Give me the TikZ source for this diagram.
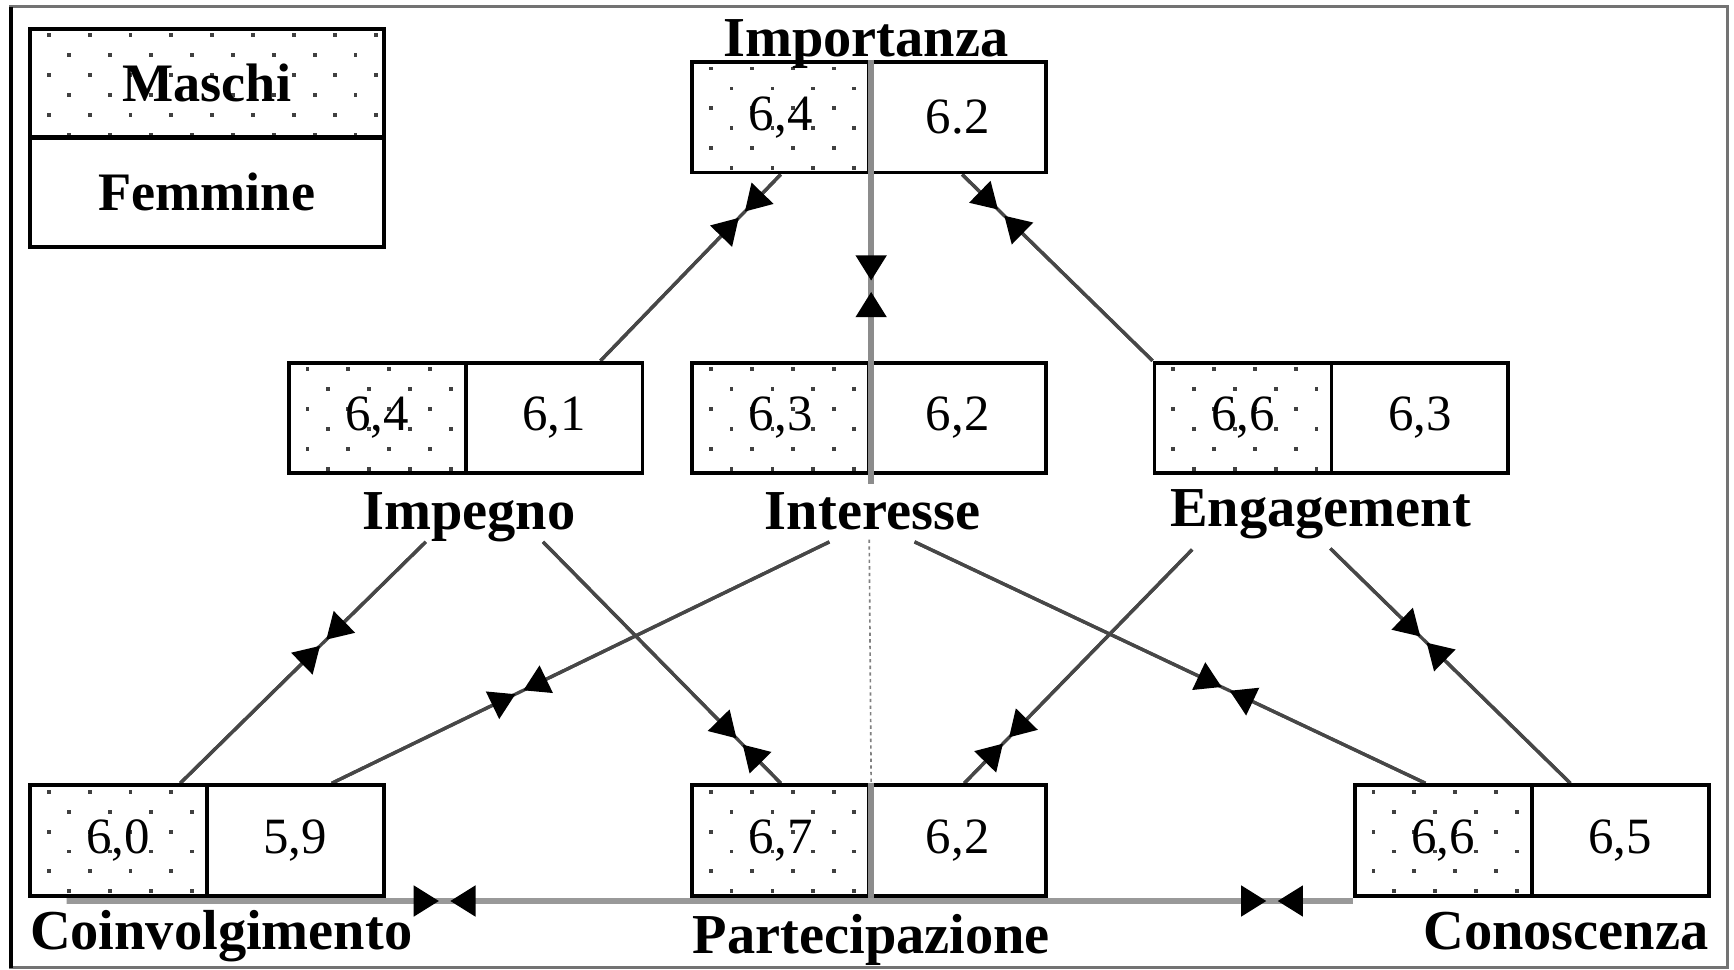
\documentclass[tikz,border=0pt]{standalone}
\usepackage{fontspec}
\setmainfont{Liberation Serif}
\usetikzlibrary{arrows.meta,calc,backgrounds}

\tikzset{
  half/.style={draw=black, line width=3.5pt, fill=white, minimum width=160pt,
    minimum height=100pt, inner sep=0pt, font=\fontsize{46}{46}\selectfont},
  mbox/.style={half, path picture={
    \foreach \j in {0,...,5}{
      \foreach \i in {0,...,8}{
        \pgfmathsetmacro\ddx{17+mod(\j,2)*18.5+\i*37}
        \pgfmathsetmacro\ddy{6+\j*18}
        \fill[black!75] ([shift={(\ddx-1.75,\ddy-1.75)}]path picture bounding box.north west) rectangle ++(3.5,3.5);
      }}}},
  fbox/.style={half},
  lab/.style={anchor=base, inner sep=0pt, font=\fontsize{51}{51}\selectfont\bfseries},
  leglab/.style={font=\fontsize{49}{49}\selectfont\bfseries},
  conn/.style={draw=black!72, line width=3pt},
  axisline/.style={draw=black!45, line width=5pt},
  baseline/.style={draw=black!40, line width=5pt},
  tipc/.style={-{Triangle[length=23pt,width=27pt,color=black]}},
}

\newcommand\bic[5]{%
  \path (#2) coordinate (bA) (#3) coordinate (bB);
  \coordinate (bM) at ($(bA)!#4!(bB)$);
  \draw[#1] (bA) -- (bB);
  \draw[#1,tipc] (bA) -- ($(bM)!#5pt!(bA)$);
  \draw[#1,tipc] (bB) -- ($(bM)!#5pt!(bB)$);
}

\begin{document}
\begin{tikzpicture}[x=1pt,y=-1pt]
\useasboundingbox (0,0) rectangle (1568,877);

% legend
\node[mbox, minimum width=320pt, minimum height=98pt, leglab] (legM) at (187,75) {Maschi};
\node[fbox, minimum width=320pt, minimum height=98pt, leglab] (legF) at (187,174) {Femmine};

% boxes
\node[mbox] (impoM) at (706,106) {6,4};
\node[fbox] (impoF) at (866,106) {6.2};
\node[mbox] (impeM) at (341,378) {6,4};
\node[fbox] (impeF) at (501,378) {6,1};
\node[mbox] (inteM) at (706,378) {6,3};
\node[fbox] (inteF) at (866,378) {6,2};
\node[mbox] (engaM) at (1124,378) {6,6};
\node[fbox] (engaF) at (1284,378) {6,3};
\node[mbox] (coinM) at (107,760) {6,0};
\node[fbox] (coinF) at (267,760) {5,9};
\node[mbox] (partM) at (706,760) {6,7};
\node[fbox] (partF) at (866,760) {6,2};
\node[mbox] (conoM) at (1305,760) {6,6};
\node[fbox] (conoF) at (1465,760) {6,5};

% labels
\node[lab] (impoL) at (783,51) {Importanza};
\node[lab] (impeL) at (424,479) {Impegno};
\node[lab] (inteL) at (789,479) {Interesse};
\node[lab] (engaL) at (1194,476) {Engagement};
\node[lab] (coinL) at (200,859) {Coinvolgimento};
\node[lab] (partL) at (788,862) {Partecipazione};
\node[lab] (conoL) at (1416,859) {Conoscenza};
\coordinate (dtop) at (786,488);

\begin{scope}[on background layer]
  \fill[white] (0,0) rectangle (1568,877);
  \draw[black!55, line width=3pt] (10,6) rectangle (1562,875);
  \draw[black, line width=3pt] (10,6) -- (10,875);
  \bic{conn}{impoM.south}{[xshift=42pt]impeF.north}{0.216}{4}
  \bic{axisline}{impoM.south east}{inteM.north east}{0.60}{5}
  \bic{conn}{[xshift=4pt]impoF.south}{engaM.north west}{0.205}{4}
  \bic{conn}{[xshift=-39pt,yshift=-11pt]impeL.base}{[xshift=56pt]coinM.north}{0.418}{4}
  \bic{conn}{[xshift=67pt,yshift=-11pt]impeL.base}{partM.north}{0.827}{4}
  \bic{conn}{[xshift=-39pt,yshift=-11pt]inteL.base}{[xshift=33pt]coinF.north}{0.623}{4}
  \bic{conn}{[xshift=38pt,yshift=-11pt]inteL.base}{[xshift=-16pt]conoM.north}{0.609}{4}
  \bic{conn}{[xshift=-116pt,yshift=-21pt]engaL.base}{[xshift=6pt]partF.north}{0.817}{4}
  \bic{conn}{[xshift=9pt,yshift=-20pt]engaL.base}{[xshift=-45pt]conoF.north}{0.388}{4}
  \bic{baseline}{[xshift=35pt,yshift=-3pt]coinM.south west}{[yshift=-3pt]partM.south west}{0.606}{5}
  \bic{baseline}{[yshift=-3pt]partF.south east}{[yshift=-3pt]conoM.south west}{0.735}{5}
  \draw[baseline] ([yshift=-3pt]partM.south west) -- ([yshift=-3pt]partF.south east);
  \draw[black!50, line width=1.5pt, dash pattern=on 3pt off 3pt] (dtop) -- (partM.north east);
\end{scope}

% grey central axis over the dividers
\draw[axisline] (impoM.north east) -- (impoM.south east);
\draw[axisline] (inteM.north east) -- ([yshift=-8pt]inteM.south east);
\draw[axisline] (partM.north east) -- (partM.south east);
\end{tikzpicture}
\end{document}
